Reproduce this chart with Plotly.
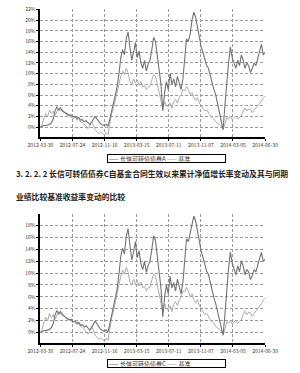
import plotly.graph_objects as go

# ---------------- data (cumulative return, %) ----------------
tick_labels = ["2012-03-30", "2012-07-24", "2012-11-16", "2013-03-15",
               "2013-07-11", "2013-11-07", "2014-03-05", "2014-06-30"]

fund_a = [0.0, 0.2, 0.3, 0.3, 0.4, 0.5, 0.8, 1.5, 3.0, 3.8, 3.2, 3.6, 3.0, 2.8, 2.6, 2.4,
          2.2, 2.3, 1.9, 2.0, 1.6, 1.8, 1.3, 1.4, 1.0, 1.2, 0.8, 0.5, 0.9, 1.6, 2.0, 1.5,
          1.0, 0.6, 0.4, 0.3, 0.5, 0.2, 1.5, 3.0, 4.0, 5.5, 7.5, 10.0, 13.0, 14.5, 13.5, 16.5,
          17.8, 15.0, 12.5, 14.0, 15.8, 13.0, 14.2, 12.0, 11.0, 12.5, 10.5, 11.8, 12.5, 14.5, 16.8, 16.0,
          13.0, 10.0, 8.0, 3.0, 6.5, 8.5, 7.0, 10.0, 8.0, 9.0, 7.5, 9.5, 8.0, 7.0, 9.0, 13.0,
          16.5, 16.0, 17.5, 20.0, 21.5, 20.5, 18.5, 16.5, 15.0, 14.0, 12.5, 11.5, 11.0, 9.5, 8.0, 7.0,
          6.0, 4.5, 3.0, 1.5, -0.5, 4.0, 9.0, 12.0, 15.0, 13.0, 12.0, 11.0, 12.5, 11.5, 13.5, 12.5,
          11.0, 12.0, 11.5, 10.2, 11.0, 12.0, 11.5, 13.0, 14.0, 15.5, 13.5, 14.0]

fund_c = [0.0, 0.2, 0.3, 0.3, 0.4, 0.5, 0.8, 1.4, 2.9, 3.7, 3.1, 3.5, 2.9, 2.7, 2.5, 2.3,
          2.1, 2.2, 1.8, 1.9, 1.5, 1.7, 1.2, 1.3, 0.9, 1.1, 0.7, 0.4, 0.8, 1.5, 1.9, 1.4,
          0.9, 0.5, 0.3, 0.2, 0.4, 0.1, 1.4, 2.9, 3.9, 5.3, 7.3, 9.8, 12.8, 14.2, 13.2, 16.2,
          17.5, 14.7, 12.2, 13.6, 15.3, 12.6, 13.8, 11.6, 10.6, 12.0, 10.1, 11.3, 12.0, 14.0, 16.3, 15.5,
          12.5, 9.5, 7.5, 2.6, 6.0, 8.0, 6.5, 9.5, 7.5, 8.4, 7.0, 9.0, 7.5, 6.5, 8.4, 12.4,
          15.8, 15.3, 16.8, 18.3, 19.6, 18.8, 17.0, 15.2, 13.7, 12.7, 11.2, 10.3, 9.8, 8.3, 6.8, 5.8,
          4.8, 3.4, 1.9, 0.4, -0.5, 2.9, 7.8, 10.8, 13.6, 11.7, 10.7, 9.7, 11.2, 10.2, 12.1, 11.2,
          9.7, 10.6, 10.2, 8.9, 9.6, 10.6, 10.2, 11.6, 12.5, 13.5, 12.0, 12.3]

bench = [0.0, 0.5, 1.8, 2.5, 2.0, 3.2, 2.5, 3.0, 2.2, 2.8, 3.5, 3.0, 3.3, 2.8, 2.5, 2.0,
         2.3, 1.8, 1.6, 1.9, 1.3, 1.5, 1.0, 0.8, 0.5, 0.2, -0.3, 0.2, 1.0, 0.4, -0.5, -0.8,
         -1.2, -0.9, -1.3, -1.5, -1.0, -1.4, 0.5, 2.5, 3.5, 5.0, 6.5, 8.5, 9.5, 10.5, 9.8, 11.0,
         10.2, 8.5, 8.0, 9.0, 8.2, 8.8, 7.8, 8.5, 7.5, 7.8, 7.0, 7.5, 7.6, 8.8, 9.8, 9.5,
         8.0, 7.0, 5.5, 3.5, 4.8, 4.0, 3.8, 4.5, 3.5, 4.8, 5.2, 4.5, 5.5, 6.0, 7.0, 6.8,
         7.6, 7.0, 6.0, 6.5, 5.5, 5.0, 5.5, 4.5, 4.0, 3.5, 3.0, 3.2, 2.6, 2.2, 1.8, 1.5,
         1.0, 0.8, 0.5, 0.2, -0.4, 0.5, 1.8, 1.5, 2.0, 1.4, 1.8, 2.1, 1.5, 1.8, 2.1, 3.0,
         3.6, 3.0, 3.4, 3.3, 2.7, 3.2, 3.6, 3.8, 4.2, 4.8, 5.5, 5.8]

ytick_top = list(range(0, 23, 2))
ytick_bottom = list(range(0, 19, 2))

name_a = "长信可转债债券A"
name_c = "长信可转债债券C"
name_b = "基准"
heading1 = "3. 2. 2. 2 长信可转债债券C自基金合同生效以来累计净值增长率变动及其与同期"
heading2 = "业绩比较基准收益率变动的比较"

# ---------------- figure ----------------
n = len(fund_a)
xs = list(range(n))
tickvals = [k * (n - 1) / 7 for k in range(8)]

FUND_COL = "#737373"
BENCH_COL = "#ababab"
GRID_COL = "#9a9a9a"
FONT = "Noto Sans CJK SC, Noto Sans, sans-serif"

fig = go.Figure()
fig.add_trace(go.Scatter(x=xs, y=bench, mode="lines", name=name_b,
                         line=dict(color=BENCH_COL, width=1), xaxis="x", yaxis="y"))
fig.add_trace(go.Scatter(x=xs, y=fund_a, mode="lines", name=name_a,
                         line=dict(color=FUND_COL, width=1.1), xaxis="x", yaxis="y"))
fig.add_trace(go.Scatter(x=xs, y=bench, mode="lines", name=name_b,
                         line=dict(color=BENCH_COL, width=1), xaxis="x2", yaxis="y2"))
fig.add_trace(go.Scatter(x=xs, y=fund_c, mode="lines", name=name_c,
                         line=dict(color=FUND_COL, width=1.1), xaxis="x2", yaxis="y2"))

H = 373.0
def py(px):
    return 1 - px / H

xcommon = dict(range=[0, n - 1], tickvals=tickvals, ticktext=tick_labels,
               showgrid=True, gridcolor=GRID_COL, griddash="3px,2px", gridwidth=1,
               showline=True, linecolor="black", linewidth=1.5,
               ticks="outside", ticklen=2, tickcolor="black",
               tickfont=dict(size=5, color="#333", family=FONT),
               zeroline=False, domain=[0.1, 0.92], fixedrange=True)
ycommon = dict(showgrid=True, gridcolor=GRID_COL, griddash="3px,2px",
               gridwidth=1, showline=True, linecolor="black", linewidth=2,
               ticks="outside", ticklen=2, tickcolor="black",
               tickfont=dict(size=5, color="#333", family=FONT),
               zeroline=False, fixedrange=True)

fig.update_layout(
    width=300, height=373,
    margin=dict(l=0, r=0, t=0, b=0),
    paper_bgcolor="white", plot_bgcolor="white",
    showlegend=False,
    font=dict(family=FONT, color="#333"),
    xaxis=dict(**xcommon, anchor="y"),
    yaxis=dict(**ycommon, range=[-1.9, 22.1], tickvals=ytick_top,
               ticktext=[f"{v}%" for v in ytick_top],
               domain=[py(134.7), py(5)], anchor="x"),
    xaxis2=dict(**xcommon, anchor="y2"),
    yaxis2=dict(**ycommon, range=[-1.85, 19.9], tickvals=ytick_bottom,
                ticktext=[f"{v}%" for v in ytick_bottom],
                domain=[py(343), py(212.7)], anchor="x2"),
)

def legend_text(name):
    return (f"<span style='color:{FUND_COL}'>——</span> {name} "
            f"<span style='color:{BENCH_COL}'>——</span> {name_b}")

for label, ycen in [(name_a, 155.7), (name_c, 363.8)]:
    fig.add_annotation(xref="paper", yref="paper", x=103 / 300, y=py(ycen),
                       xanchor="left", yanchor="middle", showarrow=False,
                       text=legend_text(label), align="left", width=116, height=6,
                       bordercolor="black", borderwidth=1, borderpad=0.5,
                       font=dict(size=6, color="#333", family=FONT))

fig.add_annotation(xref="paper", yref="paper", x=1 / 300, y=py(171.7),
                   xanchor="left", yanchor="middle", showarrow=False,
                   text=f"<b>{heading1}</b>", font=dict(size=7.8, color="#222", family=FONT))
fig.add_annotation(xref="paper", yref="paper", x=1 / 300, y=py(195),
                   xanchor="left", yanchor="middle", showarrow=False,
                   text=f"<b>{heading2}</b>", font=dict(size=7.8, color="#222", family=FONT))

fig.write_html("out.html", config={"displayModeBar": False})
